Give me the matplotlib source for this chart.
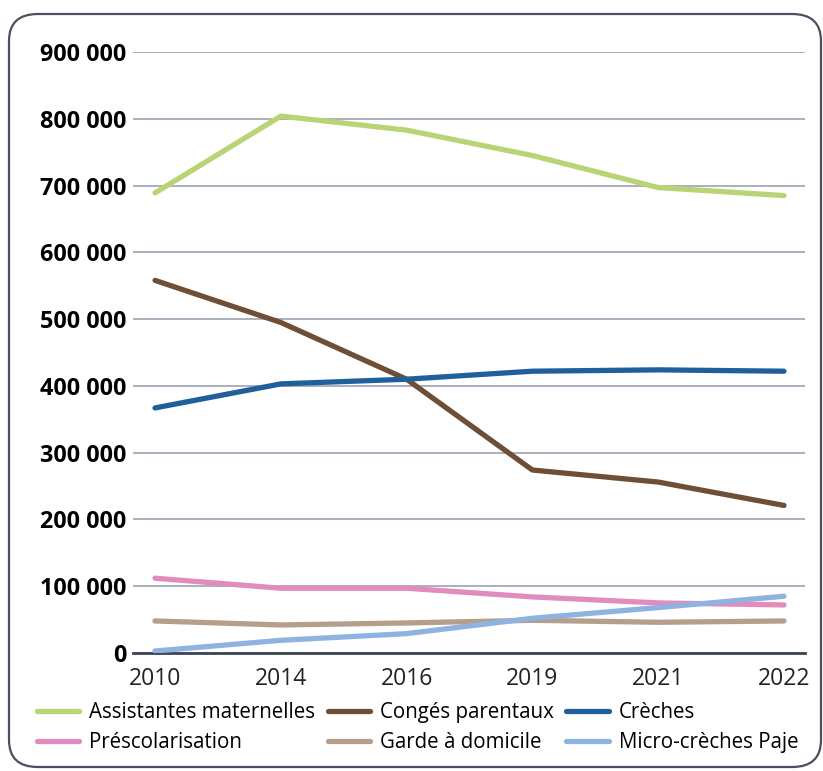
import matplotlib
matplotlib.use('Agg')
import matplotlib.pyplot as plt
from matplotlib.patches import FancyBboxPatch
from matplotlib.ticker import FuncFormatter

# Data
years = ['2010', '2014', '2016', '2019', '2021', '2022']
assistantes = [689000, 804000, 783000, 745000, 697000, 685000]
conges = [558000, 495000, 410000, 274000, 256000, 221000]
creches = [367000, 403000, 410000, 422000, 424000, 422000]
prescolarisation = [112000, 97000, 97000, 84000, 75000, 72000]
garde = [48000, 42000, 45000, 49000, 46000, 48000]
micro_creches = [3000, 19000, 29000, 52000, 68000, 85000]

series = [
    ('Assistantes maternelles', assistantes, '#b9d474'),
    ('Congés parentaux', conges, '#6e4f36'),
    ('Crèches', creches, '#20609a'),
    ('Préscolarisation', prescolarisation, '#e28bbd'),
    ('Garde à domicile', garde, '#b59f8a'),
    ('Micro-crèches Paje', micro_creches, '#8fb3e0'),
]

plt.rcParams['font.family'] = ['Open Sans', 'DejaVu Sans']

W, H = 823, 771
fig = plt.figure(figsize=(W / 100, H / 100), dpi=100)

# rounded frame around the whole chart
frame = FancyBboxPatch((9 / W, 4 / H), 812 / W, 753 / H,
                       boxstyle='round,pad=0,rounding_size=0.035',
                       transform=fig.transFigure, facecolor='white',
                       edgecolor='#4a5060', linewidth=1.6, zorder=-1)
fig.patches.append(frame)

ax = fig.add_axes([133 / W, 1 - 653 / H, (805 - 133) / W, (653 - 52) / H])
ax.set_zorder(2)
ax.patch.set_alpha(0)

x = list(range(len(years)))
lines = []
for name, vals, color in series:
    ln, = ax.plot(x, vals, color=color, linewidth=3.8, label=name,
                  solid_capstyle='round', solid_joinstyle='round', zorder=3)
    lines.append(ln)

ax.set_ylim(0, 900000)
ax.set_xlim(-0.175, 5.167)
ax.set_yticks(range(0, 900001, 100000))
ax.yaxis.set_major_formatter(FuncFormatter(lambda v, p: f'{int(v):,}'.replace(',', ' ')))
ax.set_xticks(x)
ax.set_xticklabels(years)

ax.grid(axis='y', color='#a9afbd', linewidth=1.4, zorder=1)
ax.set_axisbelow(True)
for s in ['top', 'right', 'left']:
    ax.spines[s].set_visible(False)
ax.spines['bottom'].set_color('#3d4452')
ax.spines['bottom'].set_linewidth(2)
ax.spines['bottom'].set_zorder(2)

ax.tick_params(axis='y', length=0, pad=5, labelsize=16.8, labelcolor='black')
ax.tick_params(axis='x', length=0, pad=10, labelsize=16.5, labelcolor='#222222')
for lab in ax.get_yticklabels():
    lab.set_fontweight('bold')

# legend filled row by row like the original
order = [0, 3, 1, 4, 2, 5]
leg = fig.legend([lines[i] for i in order], [series[i][0] for i in order],
                 loc='upper left', bbox_to_anchor=(37 / W, 1 - 702 / H), ncol=3,
                 frameon=False, fontsize=14.8, handlelength=2.05, handletextpad=0.5,
                 columnspacing=0.6, labelspacing=0.45, borderpad=0, borderaxespad=0)
leg.set_zorder(3)

fig.savefig('out.png', dpi=100)
